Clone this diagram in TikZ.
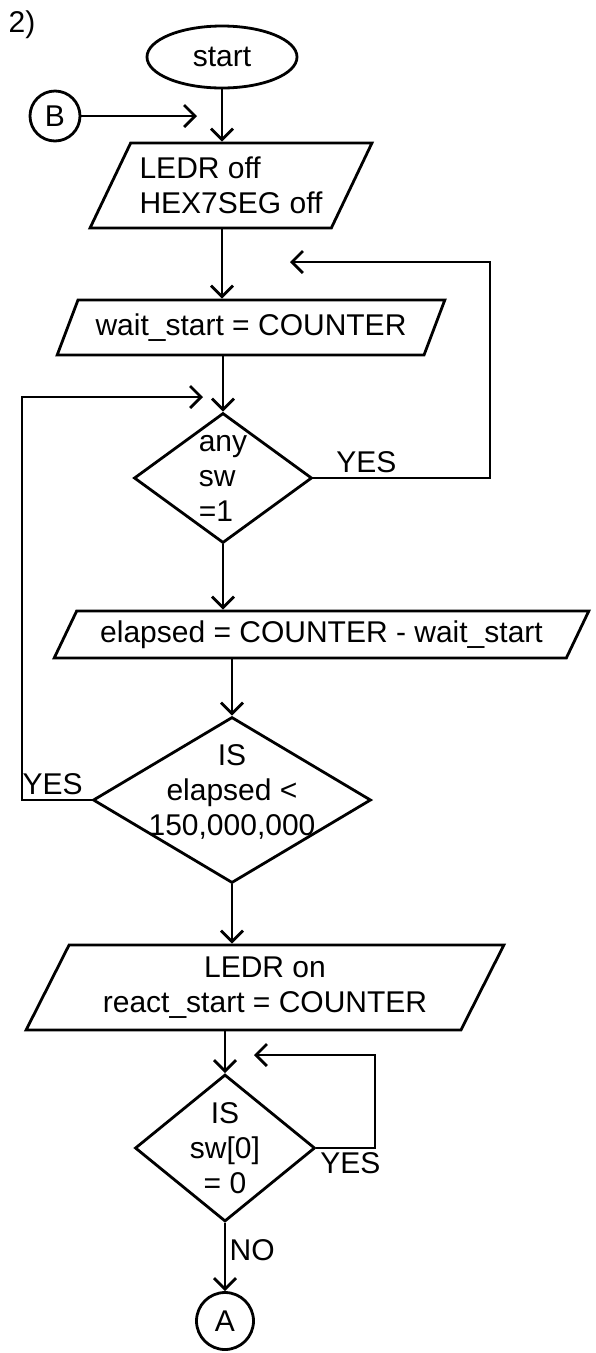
\documentclass[tikz,border=0pt]{standalone}
\usepackage{fontspec}
\setmainfont{Liberation Sans}
\usetikzlibrary{shapes.geometric,arrows.meta}

\begin{document}
\begin{tikzpicture}[x=1pt,y=-1pt,line width=2.8pt,font=\fontsize{30}{35}\selectfont]
		\tikzset{io/.style = {draw,trapezium,trapezium stretches=true,inner sep=0pt,align=center}}
		\tikzset{decision/.style = {draw,diamond,inner sep=0pt}}
		\tikzset{terminal/.style = {draw,ellipse,inner sep=0pt}}
		\tikzset{connector/.style = {draw,circle,inner sep=0pt,minimum size=#1}}
		\tikzset{edge/.style = {->,> = {Straight Barb[length=11pt,width=22pt]}}}
		\path[use as bounding box,fill=white] (0,0) rectangle (595,1353);
		\node (part) at (22,25) {2)};
		% Draw blocks
		\node[terminal, minimum width=150pt, minimum height=62pt] (start) at (222,57) {start};
		\node[connector=50pt] (B) at (55,116) {B};
		\node[io, minimum width=282pt, minimum height=85pt, align=left,
			trapezium left angle=57, trapezium right angle=123] (offbox) at (231,185.5) {LEDR off\\HEX7SEG off};
		\node[io, minimum width=388pt, minimum height=55pt,
			trapezium left angle=56, trapezium right angle=124] (waitbox) at (251,327.5) {wait\_start = COUNTER};
		\node[decision, minimum width=178pt, minimum height=130pt,
			label={[align=left]center:any\\sw\\=1}] (q1) at (223,478) {};
		\node[io, minimum width=537pt, minimum height=47pt,
			trapezium left angle=54, trapezium right angle=126] (elapbox) at (321.5,634.5) {elapsed = COUNTER - wait\_start};
		\node[decision, minimum width=278pt, minimum height=166pt,
			label={[align=center,yshift=8pt]center:IS\\elapsed <\\150,000,000}] (q2) at (232,800) {};
		\node[io, minimum width=480pt, minimum height=85pt,
			trapezium left angle=60, trapezium right angle=120] (onbox) at (265,987.5) {LEDR on\\react\_start = COUNTER};
		\node[decision, minimum width=180pt, minimum height=147pt,
			label={[align=center]center:IS\\sw[0]\\= 0}] (q3) at (225,1148) {};
		\node[connector=57pt] (A) at (225,1321) {A};
		% Loose ends of the arrows
		\coordinate (bin) at (197,116);
		\coordinate (yesturn1) at (490,262);
		\coordinate (waitin) at (290,262);
		\coordinate (yesturn2) at (22,397);
		\coordinate (q1in) at (203,397);
		\coordinate (yesturn3) at (375,1055);
		\coordinate (q3in) at (254,1055);
		% Draw arrows
		\draw[edge] (start) to (start |- offbox.north);
		\draw[edge] (B) to (bin);
		\draw[edge] (offbox.south -| start) to (waitbox.north -| start);
		\draw[edge] (waitbox.south -| q1) to (q1.north);
		\draw[edge] (q1.east) -| node[pos=0.15, above] {YES} (yesturn1) -- (waitin);
		\draw[edge] (q1.south) to (q1.south |- elapbox.north);
		\draw[edge] (elapbox.south -| q2) to (q2.north);
		\draw[edge] (q2.west) -| node[pos=0.28, above] {YES} (yesturn2) -- (q1in);
		\draw[edge] (q2.south) to (q2.south |- onbox.north);
		\draw[edge] (onbox.south -| q3) to (q3.north);
		\draw[edge] (q3.east) -| node[pos=0.29, below] {YES} (yesturn3) -- (q3in);
		\draw[edge] (q3.south) to node[pos=0.4, right] {NO} (A);
	\end{tikzpicture}
\end{document}
